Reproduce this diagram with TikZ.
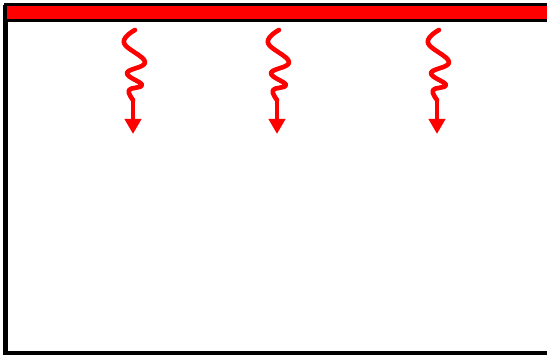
\documentclass[tikz,border=0pt]{standalone}
\usetikzlibrary{arrows.meta}
\begin{document}
\begin{tikzpicture}[x=1pt,y=-1pt,
  frameline/.style={line width=4.5pt,black},
  wavearrow/.style={red,line width=4.6pt,line cap=round,line join=round},
  tipline/.style={red,line width=4.6pt,-{Triangle[width=16pt,length=15pt]}},
  pics/wave/.style={code={
    \draw[wavearrow] plot[smooth,tension=0.7] coordinates{(2,30) (-9,43) (12,62) (-6,73) (9,85) (-4,90) (0,100)};
    \draw[tipline] (0,99) -- (0,134);
  }}]
\useasboundingbox (0,0) rectangle (547,355);
\fill[white] (0,0) rectangle (547,355);
\draw[frameline] (5.5,5) -- (5.5,353) -- (560,353);
\draw[black,line width=3pt,fill=red] (5.5,4.5) rectangle (560,21);
\pic at (133,0) {wave};
\pic at (277,0) {wave};
\pic at (437,0) {wave};
\end{tikzpicture}
\end{document}
